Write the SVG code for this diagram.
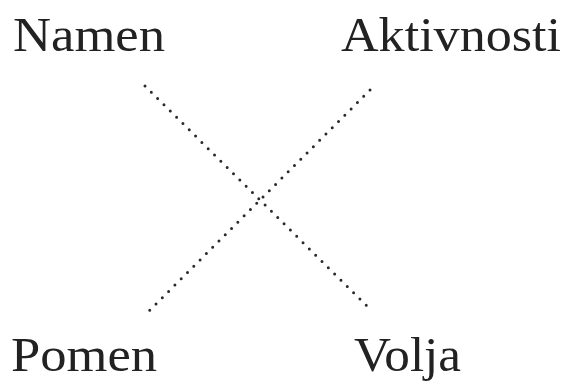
<svg xmlns="http://www.w3.org/2000/svg" width="563" height="383" viewBox="0 0 563 383">
<style>
.lbl{font-family:"Liberation Serif","DejaVu Serif",serif;font-size:48px;fill:#222}
.dot{stroke:#2a2a2a;stroke-width:3;stroke-linecap:round;stroke-dasharray:0 8.9;fill:none}
</style>
<rect width="563" height="383" fill="#fff"/>
<g id="namen"><text class="lbl" x="13" y="51" textLength="152" lengthAdjust="spacingAndGlyphs">Namen</text></g>
<g id="aktivnosti"><text class="lbl" x="341" y="51" textLength="220" lengthAdjust="spacingAndGlyphs">Aktivnosti</text></g>
<g id="pomen"><text class="lbl" x="11" y="371" textLength="146" lengthAdjust="spacingAndGlyphs">Pomen</text></g>
<g id="volja"><text class="lbl" x="354" y="371" textLength="107" lengthAdjust="spacingAndGlyphs">Volja</text></g>
<g id="connectors">
<line class="dot" x1="145" y1="86" x2="371" y2="310"/>
<line class="dot" x1="370" y1="90" x2="145" y2="315"/>
</g>
</svg>
